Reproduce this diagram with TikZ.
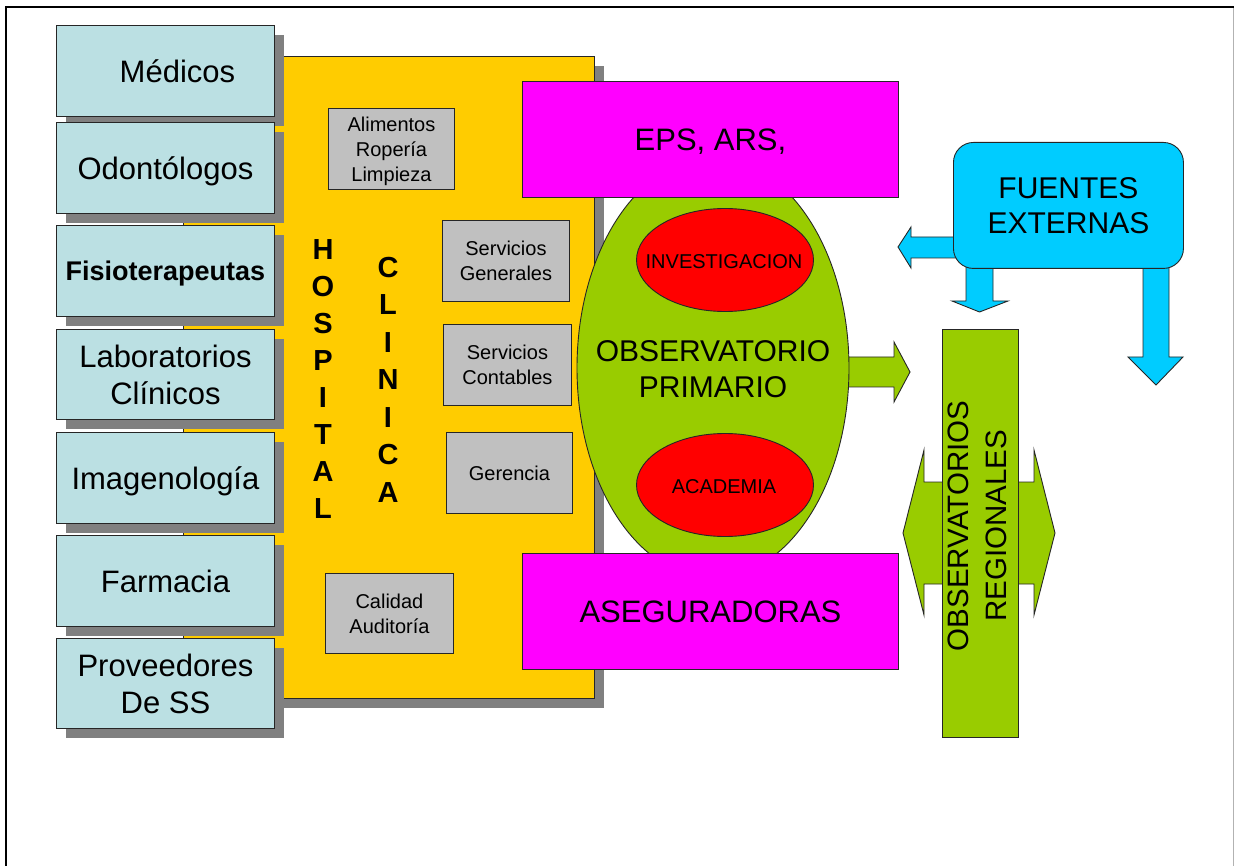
\documentclass[tikz,border=0pt]{standalone}
\usepackage{fontspec}
\setmainfont{Liberation Sans}
\usetikzlibrary{shadows,shapes.geometric}

\definecolor{staffblue}{HTML}{BBE0E3}
\definecolor{hospyellow}{HTML}{FFCC00}
\definecolor{unitgray}{HTML}{C0C0C0}
\definecolor{shadowgray}{HTML}{808080}
\definecolor{payermagenta}{HTML}{FF00FF}
\definecolor{obsgreen}{HTML}{99CC00}
\definecolor{focusred}{HTML}{FF0000}
\definecolor{extcyan}{HTML}{00CCFF}

\begin{document}
\begin{tikzpicture}[x=1pt,y=-1pt,
  outline/.style={draw=black!85, line width=0.9pt},
  box/.style={outline, inner sep=0pt, anchor=north west, align=center},
  shadowed/.style={drop shadow={shadow xshift=10pt, shadow yshift=-10pt, opacity=1, fill=shadowgray}},
  staff/.style={box, shadowed, fill=staffblue, minimum width=218pt, minimum height=91pt,
    font=\fontsize{31}{37}\selectfont, text depth=0pt},
  oneline/.style={text height=22.3pt},
  unit/.style={box, fill=unitgray, minimum height=81pt, font=\fontsize{20}{25}\selectfont, text depth=0pt},
  payer/.style={box, fill=payermagenta, minimum width=376pt, minimum height=116pt,
    font=\fontsize{31}{37}\selectfont, text height=22.3pt, text depth=0pt},
  redoval/.style={outline, ellipse, fill=focusred, minimum width=177pt, minimum height=103pt, inner sep=0pt},
  caption/.style={inner sep=0pt, align=center, text depth=0pt},
  stack/.style={inner sep=0pt, align=center, text depth=0pt, font=\bfseries\fontsize{29}{37}\selectfont},
  greenshape/.style={outline, fill=obsgreen},
  cyanshape/.style={outline, fill=extcyan},
]
\useasboundingbox (0,0) rectangle (1234,866);

% page frame
\draw[black!30, line width=1pt] (1233,8) -- (1233,866);
\draw[line width=2pt] (6,866) -- (6,7) -- (1234,7);

% hospital / clinic block
\node[box, shadowed, fill=hospyellow, minimum width=411pt, minimum height=642pt] (hosp) at (183,56) {};

% health staff column
\node[staff, oneline] (medicos) at (56,25) {\hspace*{24pt}Médicos};
\node[staff, oneline] (odonto) at (56,122) {Odontólogos};
\node[staff, text height=19.5pt, font=\bfseries\fontsize{27}{32}\selectfont] (fisio) at (56,225) {Fisioterapeutas};
\node[staff, minimum height=90pt] (lab) at (56,329) {Laboratorios\\Clínicos};
\node[staff, oneline] (imagen) at (56,432) {Imagenología};
\node[staff, oneline] (farmacia) at (56,535) {Farmacia};
\node[staff, minimum height=90pt] (prov) at (56,638) {Proveedores\\De SS};

% internal services
\node[unit, minimum width=126pt] (alim) at (328,108) {Alimentos\\Ropería\\Limpieza};
\node[unit, minimum width=127pt] (servgen) at (442,220) {Servicios\\Generales};
\node[unit, minimum width=128pt] (servcont) at (443,324) {Servicios\\Contables};
\node[unit, minimum width=126pt, text height=14.3pt] (geren) at (446,432) {Gerencia};
\node[unit, minimum width=128pt, minimum height=80pt] (calidad) at (325,573) {Calidad\\Auditoría};

% vertical titles
\node[stack] (hospital) at (323,379.5) {H\\O\\S\\P\\I\\T\\A\\L};
\node[stack, font=\bfseries\fontsize{29}{37.5}\selectfont] (clinica) at (388,379.5) {C\\L\\I\\N\\I\\C\\A};

% primary observatory
\draw[greenshape] (830,357) -- (894,357) -- (894,342) -- (910,372) -- (894,402) -- (894,387) -- (830,387) -- cycle;
\node[outline, ellipse, fill=obsgreen, minimum width=272pt, minimum height=420pt, inner sep=0pt] (obs) at (713,368) {};
\node[redoval] (invest) at (725,260) {};
\node[redoval] (acad) at (725,485) {};
\node[caption, font=\fontsize{20}{24}\selectfont, text height=14.3pt] (investname) at (724,261) {INVESTIGACION};
\node[caption, font=\fontsize{20}{24}\selectfont, text height=14.3pt] (acadname) at (724,486) {ACADEMIA};
\node[caption, font=\fontsize{30}{36}\selectfont] (obsname) at (713,369) {OBSERVATORIO\\PRIMARIO};

% payers
\node[payer] (eps) at (522,81) {EPS, ARS,};
\node[payer] (aseg) at (522,553) {ASEGURADORAS};

% regional observatories
\draw[greenshape] (903,533) -- (924,450) -- (924,482) -- (1034,482) -- (1034,450) -- (1055,533)
  -- (1034,615) -- (1034,584) -- (924,584) -- (924,615) -- cycle;
\node[box, fill=obsgreen, minimum width=76pt, minimum height=408pt] (regional) at (942,329) {};
\node[caption, rotate=90, font=\fontsize{29.5}{38}\selectfont] (regname) at (977.5,526) {OBSERVATORIOS\\REGIONALES};

% external sources
\draw[cyanshape] (960,237) -- (911,237) -- (911,227) -- (898,247) -- (911,268) -- (911,258) -- (960,258) -- cycle;
\draw[cyanshape] (966,260) -- (966,301) -- (952,301) -- (979.5,312) -- (1008,301) -- (993,301) -- (993,260) -- cycle;
\draw[cyanshape] (1143,260) -- (1143,357) -- (1128,357) -- (1156,385) -- (1183,357) -- (1169,357) -- (1169,260) -- cycle;
\node[box, fill=extcyan, rounded corners=20pt, minimum width=230pt, minimum height=126pt,
  font=\fontsize{30}{35}\selectfont, text depth=0pt] (fuentes) at (953,142) {FUENTES\\EXTERNAS};
\end{tikzpicture}
\end{document}
